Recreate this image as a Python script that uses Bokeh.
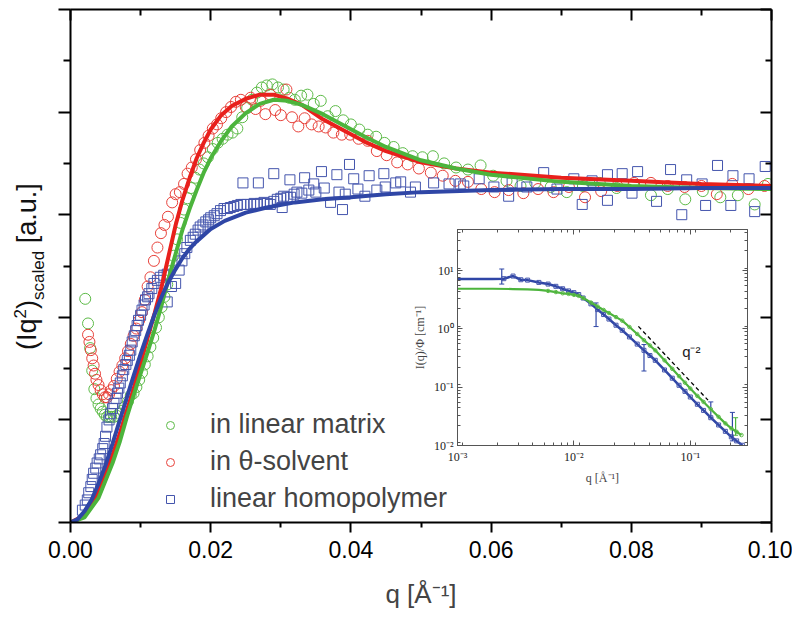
import numpy as np
from bokeh.plotting import figure
from bokeh.models import (Range1d, LinearAxis, LogAxis, FixedTicker, LogTicker, Legend,
                          LegendItem, Label, CustomJSTickFormatter, NumeralTickFormatter,
                          Whisker, TeeHead, ColumnDataSource, Div)
from bokeh.layouts import column
from bokeh.embed import file_html
from bokeh.resources import INLINE

# ---------------- main panel data ----------------
# in linear matrix (green circles)
gq = [0.0021,0.0025,0.0028,0.0031,0.0034,0.0037,0.0040,0.0043,0.0046,0.0049,0.0052,0.0055,0.0058,
      0.0062,0.0066,0.0070,0.0074,0.0078,0.0082,0.0086,0.0090,0.0094,0.0098,0.0102,0.0106,0.0110,0.0114,0.0118,0.0122,0.0126,0.0130,
      0.0134,0.0138,0.0142,0.0147,0.0152,0.0157,0.0162,0.0167,0.0172,0.0178,0.0184,0.0190,0.0196,
      0.0203,0.0210,0.0217,0.0224,0.0231,0.0238,0.0245,0.0252,0.0259,0.0266,0.0273,0.0280,
      0.0288,0.0296,0.0304,0.0312,0.0320,0.0329,0.0338,0.0347,0.0357,0.0367,0.0378,0.0389,0.0400,
      0.0412,0.0424,0.0436,0.0448,0.0461,0.0474,0.0488,0.0502,0.0517,0.0533,0.0550,0.0567,0.0585,0.0603,
      0.0622,0.0642,0.0663,0.0685,0.0708,0.0731,0.0755,0.0779,0.0803,0.0828,0.0852,0.0877,0.0902,0.0927,
      0.0952,0.0976,0.0995]
gy = [2.18,1.94,1.70,1.48,1.30,1.21,1.15,1.11,1.08,1.05,1.03,1.03,1.03,
      1.03,1.04,1.06,1.09,1.13,1.18,1.24,1.26,1.32,1.39,1.46,1.54,1.62,1.71,1.80,1.90,2.00,2.10,
      2.20,2.32,2.45,2.60,2.76,2.92,3.05,3.16,3.26,3.36,3.44,3.50,3.56,
      3.64,3.70,3.74,3.78,3.80,3.84,3.95,4.04,4.12,4.19,4.24,4.26,
      4.27,4.24,4.22,4.14,4.12,4.16,4.17,4.08,4.11,3.96,4.01,3.92,3.88,
      3.83,3.78,3.76,3.70,3.66,3.60,3.57,3.56,3.57,3.50,3.46,3.44,3.48,3.38,
      3.33,3.28,3.31,3.27,3.22,3.28,3.31,3.26,3.29,3.19,3.25,3.15,3.23,3.17,
      3.19,3.10,3.30]

# in theta-solvent (red circles)
rq = [0.0025,0.0027,0.0029,0.0031,0.0033,0.0035,0.0037,0.0040,0.0043,0.0046,0.0049,0.0052,0.0055,0.0058,
      0.0062,0.0066,0.0070,0.0074,0.0078,0.0082,0.0086,0.0090,0.0094,0.0098,0.0102,0.0106,0.0110,0.0114,
      0.0119,0.0124,0.0129,0.0134,0.0139,
      0.0145,0.0150,0.0156,0.0162,0.0167,0.0173,0.0179,0.0185,0.0191,0.0197,0.0203,0.0209,0.0215,
      0.0222,0.0229,0.0236,0.0243,0.0250,0.0257,0.0264,0.0271,0.0278,0.0285,0.0292,
      0.0300,0.0308,0.0316,0.0325,0.0334,0.0344,0.0354,0.0364,0.0375,0.0387,0.0399,0.0411,0.0424,0.0437,
      0.0451,0.0466,0.0481,0.0497,0.0514,0.0531,0.0549,0.0567,0.0586,0.0605,0.0625,0.0646,0.0667,0.0689,
      0.0711,0.0734,0.0757,0.0780,0.0804,0.0828,0.0852,0.0876,0.0900,0.0922,0.0944,0.0967,0.0990]
ry = [1.83,1.76,1.68,1.60,1.53,1.45,1.39,1.34,1.29,1.25,1.22,1.22,1.25,1.29,
      1.33,1.40,1.47,1.53,1.60,1.67,1.74,1.82,1.89,1.97,2.05,2.17,2.30,2.39,
      2.55,2.68,2.82,2.90,2.98,
      3.12,3.20,3.22,3.30,3.40,3.46,3.54,3.63,3.70,3.77,3.84,3.88,3.94,
      4.00,4.05,4.10,4.12,4.05,4.14,4.03,4.11,3.98,4.17,4.02,
      3.97,4.22,3.95,3.86,3.94,3.88,3.86,3.85,3.80,3.78,3.78,3.74,3.72,3.62,
      3.58,3.51,3.49,3.45,3.41,3.38,3.33,3.32,3.25,3.22,3.24,3.21,3.25,3.22,
      3.27,3.17,3.23,3.28,3.31,3.31,3.28,3.27,3.28,3.20,3.30,3.25,3.28]

# linear homopolymer (blue squares)
bq = [0.0017,0.0021,0.0024,0.0026,0.0029,0.0031,0.0033,0.0036,0.0038,0.0041,
      0.0043,0.0046,0.0048,0.0050,0.0052,0.0055,0.0057,0.0060,0.0062,0.0065,
      0.0067,0.0069,0.0071,0.0074,0.0076,0.0079,0.0081,0.0084,0.0086,0.0088,
      0.0091,0.0093,0.0095,0.0097,0.0100,0.0102,0.0105,0.0107,0.0110,0.0112,
      0.0116,0.0119,0.0124,0.0128,0.0133,0.0138,0.0138,0.0144,0.0150,0.0155,
      0.0159,0.0163,0.0166,0.0171,0.0175,0.0178,0.0182,0.0185,0.0189,0.0193,
      0.0197,0.0200,0.0205,0.0209,0.0214,0.0219,0.0224,0.0228,0.0233,0.0238,
      0.0243,0.0246,0.0247,0.0252,0.0257,0.0262,0.0266,0.0268,0.0271,0.0276,
      0.0281,0.0285,0.0290,0.0290,0.0295,0.0300,0.0302,0.0304,0.0309,0.0313,
      0.0314,0.0319,0.0323,0.0330,0.0334,0.0340,0.0347,0.0350,0.0358,0.0362,
      0.0371,0.0380,0.0383,0.0388,0.0392,0.0398,0.0404,0.0410,0.0420,0.0426,
      0.0437,0.0447,0.0449,0.0464,0.0471,0.0485,0.0492,0.0518,0.0540,0.0556,
      0.0561,0.0583,0.0604,0.0625,0.0630,0.0651,0.0675,0.0694,0.0718,0.0730,
      0.0744,0.0766,0.0766,0.0787,0.0801,0.0809,0.0836,0.0856,0.0872,0.0879,
      0.0901,0.0906,0.0923,0.0942,0.0945,0.0968,0.0976,0.0991]
by = [0.12,0.17,0.22,0.29,0.35,0.42,0.48,0.53,0.58,0.62,
      0.66,0.72,0.77,0.84,0.93,1.00,1.06,1.11,1.16,1.21,
      1.26,1.31,1.36,1.43,1.49,1.54,1.58,1.63,1.68,1.76,
      1.82,1.87,1.92,1.97,2.02,2.07,2.12,2.17,2.20,2.23,
      2.28,2.33,2.36,2.39,2.41,2.42,2.15,2.30,2.33,2.46,
      2.55,2.62,2.68,2.75,2.78,2.81,2.85,2.88,2.90,2.93,
      2.95,2.97,2.99,3.01,3.04,3.06,3.06,3.07,3.08,3.09,
      3.10,3.31,3.10,3.10,3.10,3.11,3.10,3.31,3.11,3.12,
      3.11,3.10,3.40,3.13,3.15,3.16,3.07,3.18,3.17,3.34,
      3.17,3.20,3.22,3.21,3.36,3.24,3.30,3.22,3.42,3.26,
      3.12,3.39,3.22,3.05,3.20,3.49,3.35,3.25,3.18,3.38,
      3.24,3.40,3.27,3.31,3.32,3.22,3.27,3.31,3.30,3.30,
      3.28,3.35,3.27,3.18,3.31,3.27,3.41,3.25,3.35,3.10,
      3.33,3.39,3.14,3.40,3.21,3.42,3.13,3.44,3.00,3.34,
      3.30,3.09,3.48,3.09,3.38,3.35,3.03,3.47]

# fit curves
bfq = [0, 0.001, 0.002, 0.003, 0.004, 0.005, 0.006, 0.007, 0.008, 0.009, 0.010, 0.011, 0.012, 0.013,
       0.014, 0.015, 0.016, 0.017, 0.018, 0.020, 0.022, 0.025, 0.028, 0.032, 0.036, 0.040, 0.045,
       0.050, 0.060, 0.070, 0.080, 0.090, 0.100]
bfy = [0, 0.03, 0.11, 0.22, 0.38, 0.56, 0.77, 0.99, 1.21, 1.43, 1.64, 1.84, 2.03, 2.20,
       2.35, 2.47, 2.58, 2.67, 2.74, 2.86, 2.94, 3.02, 3.07, 3.12, 3.15, 3.17, 3.20,
       3.22, 3.24, 3.25, 3.25, 3.26, 3.26]
rfq = [0, 0.002, 0.004, 0.006, 0.007, 0.008, 0.009, 0.010, 0.011, 0.012, 0.013, 0.014, 0.015, 0.016,
       0.017, 0.018, 0.019, 0.020, 0.0215, 0.023, 0.025, 0.027, 0.029, 0.031, 0.033, 0.036, 0.039,
       0.042, 0.045, 0.050, 0.055, 0.060, 0.070, 0.080, 0.090, 0.100]
rfy = [0, 0.07, 0.30, 0.66, 0.86, 1.08, 1.30, 1.55, 1.80, 2.04, 2.30, 2.60, 2.90, 3.15,
       3.36, 3.55, 3.70, 3.83, 3.97, 4.06, 4.13, 4.17, 4.17, 4.13, 4.07, 3.93, 3.82,
       3.71, 3.62, 3.51, 3.45, 3.41, 3.36, 3.33, 3.30, 3.28]
gfq = [0, 0.002, 0.004, 0.006, 0.007, 0.008, 0.009, 0.010, 0.011, 0.012, 0.013, 0.014, 0.015, 0.016,
       0.017, 0.018, 0.019, 0.020, 0.0215, 0.023, 0.025, 0.027, 0.029, 0.031, 0.033, 0.036, 0.039,
       0.042, 0.045, 0.050, 0.055, 0.060, 0.070, 0.080, 0.090, 0.100]
gfy = [0, 0.05, 0.24, 0.58, 0.78, 1.02, 1.24, 1.45, 1.66, 1.88, 2.12, 2.38, 2.62, 2.86,
       3.06, 3.24, 3.41, 3.55, 3.72, 3.86, 3.99, 4.08, 4.12, 4.11, 4.07, 3.98, 3.87,
       3.76, 3.66, 3.53, 3.45, 3.39, 3.32, 3.28, 3.26, 3.25]

x_major = [0.0, 0.02, 0.04, 0.06, 0.08, 0.10]
x_minor = [0.01, 0.03, 0.05, 0.07, 0.09]
y_major = [0, 1, 2, 3, 4, 5]
y_minor = [0.5, 1.5, 2.5, 3.5, 4.5]
legend_labels = ["in linear matrix", "in θ-solvent", "linear homopolymer"]

# ---------------- inset data ----------------
iq_b = [0.001,0.002,0.0025,0.003,0.0035,0.004,0.005,0.006,0.007,0.008,0.009,0.010,0.011,0.012,
        0.014,0.016,0.018,0.020,0.023,0.026,0.030,0.035,0.040,0.045,0.050,0.060,0.070,0.080,
        0.090,0.100,0.115,0.130,0.150,0.175,0.200,0.225,0.250,0.280]
iI_b = [7.2,7.2,7.3,8.1,7.0,6.9,6.3,5.9,5.4,4.9,4.5,4.2,3.9,3.4,
        2.7,2.15,1.77,1.48,1.16,0.95,0.73,0.55,0.43,0.35,0.29,0.198,0.143,0.108,
        0.085,0.068,0.051,0.040,0.030,0.0225,0.0175,0.0141,0.012,0.0101]
iq_g = [0.001,0.002,0.003,0.004,0.005,0.006,0.007,0.008,0.009,0.010,0.011,0.012,0.014,0.016,
        0.018,0.020,0.023,0.026,0.030,0.035,0.040,0.045,0.050,0.060,0.070,0.080,0.090,0.100,
        0.115,0.130,0.150,0.175,0.200,0.225,0.250,0.275]
iI_g = [4.9,4.9,4.85,4.8,4.7,4.5,4.3,4.1,4.0,3.85,3.7,3.4,2.84,2.43,
        2.12,1.88,1.60,1.39,1.08,0.82,0.64,0.52,0.43,0.29,0.207,0.155,0.12,0.095,
        0.071,0.056,0.042,0.031,0.024,0.0197,0.0172,0.0151]
err_q_b = [0.0024, 0.0155, 0.040, 0.150, 0.230]
err_lo_b = [5.9, 1.1, 0.19, 0.030, 0.012]
err_hi_b = [10.7, 2.8, 0.54, 0.056, 0.037]
err_q_g = [0.245]
err_lo_g = [0.015]
err_hi_g = [0.030]
slope_q = [0.0358, 0.142]
slope_I = [1.11, 0.060]

GREEN_M, GREEN_L = "#5dbb48", "#4cb43c"
RED_M, RED_L = "#e8413a", "#e8201c"
BLUE_M, BLUE_L = "#4455ad", "#2f46a6"
FONT = "Liberation Sans"
SERIF = "Liberation Serif"
BLANK = CustomJSTickFormatter(code="return '';")

# ---------------- main figure ----------------
W, H = 784, 603
p = figure(width=W, height=H, output_backend="svg", toolbar_location=None,
           x_range=Range1d(0, 0.1), y_range=Range1d(0, 5),
           min_border_left=62, min_border_right=21, min_border_top=1, min_border_bottom=88)
p.margin = (8, 0, 0, 8)
p.xgrid.visible = False
p.ygrid.visible = False
p.outline_line_color = None
p.background_fill_color = "white"
p.border_fill_color = "white"

xa = p.xaxis[0]
xa.ticker = FixedTicker(ticks=x_major, minor_ticks=x_minor)
xa.formatter = NumeralTickFormatter(format="0.00")
xa.major_tick_out, xa.major_tick_in = 10, 0
xa.minor_tick_out, xa.minor_tick_in = 5, 0
xa.axis_line_width = 2
xa.major_tick_line_width = 2
xa.minor_tick_line_width = 2
xa.major_label_text_font = FONT
xa.major_label_text_font_size = "23px"
xa.major_label_text_color = "black"
xa.major_label_standoff = 8
xa.axis_label = "q [Å⁻¹]"
xa.axis_label_text_font = FONT
xa.axis_label_text_font_size = "26px"
xa.axis_label_text_font_style = "normal"
xa.axis_label_standoff = 18

ya = p.yaxis[0]
ya.ticker = FixedTicker(ticks=y_major, minor_ticks=y_minor)
ya.formatter = BLANK
ya.major_tick_out, ya.major_tick_in = 12, 0
ya.minor_tick_out, ya.minor_tick_in = 7, 0
ya.axis_line_width = 2
ya.major_tick_line_width = 2
ya.minor_tick_line_width = 2
ya.major_label_standoff = 0

top = LinearAxis(ticker=FixedTicker(ticks=x_major, minor_ticks=x_minor), formatter=BLANK,
                 major_tick_in=11, major_tick_out=0, minor_tick_in=6, minor_tick_out=0,
                 axis_line_width=2, major_tick_line_width=2, minor_tick_line_width=2,
                 major_label_standoff=0)
p.add_layout(top, "above")
right = LinearAxis(ticker=FixedTicker(ticks=y_major, minor_ticks=y_minor), formatter=BLANK,
                   major_tick_in=11, major_tick_out=0, minor_tick_in=6, minor_tick_out=0,
                   axis_line_width=2, major_tick_line_width=2, minor_tick_line_width=2,
                   major_label_standoff=0)
p.add_layout(right, "right")

rg = p.scatter(gq, gy, marker="circle", size=11, fill_color=None, line_color=GREEN_M, line_width=1)
rr = p.scatter(rq, ry, marker="circle", size=11, fill_color=None, line_color=RED_M, line_width=1)
rb = p.scatter(bq, by, marker="square", size=10, fill_color=None, line_color=BLUE_M, line_width=1)
p.line(rfq, rfy, line_color=RED_L, line_width=4)
p.line(gfq, gfy, line_color=GREEN_L, line_width=4)
p.line(bfq, bfy, line_color=BLUE_L, line_width=4)

legend = Legend(items=[LegendItem(label=legend_labels[0], renderers=[rg]),
                       LegendItem(label=legend_labels[1], renderers=[rr]),
                       LegendItem(label=legend_labels[2], renderers=[rb])],
                location=(90, 8), label_text_font=FONT, label_text_font_size="27px",
                glyph_width=20, glyph_height=30, label_height=30, spacing=6,
                padding=0, margin=0, label_standoff=30,
                border_line_color=None, background_fill_alpha=0)
p.add_layout(legend)

# ---------------- inset ----------------
IW, IH = 373, 266
pi = figure(width=IW, height=IH, output_backend="svg", toolbar_location=None,
            x_axis_type="log", y_axis_type="log",
            x_range=Range1d(0.001, 0.31), y_range=Range1d(0.01, 51),
            min_border_left=50, min_border_right=10, min_border_top=5, min_border_bottom=45)
pi.border_fill_alpha = 0
pi.background_fill_color = "white"
pi.outline_line_color = "#555555"
pi.xgrid.visible = False
pi.ygrid.visible = False

fmt_code = """
const e = Math.round(Math.log10(tick));
const m = {'-':'\u207b','0':'\u2070','1':'\u00b9','2':'\u00b2','3':'\u00b3'};
return '10' + String(e).split('').map(c => m[c]).join('');
"""
for ax in [pi.xaxis[0], pi.yaxis[0]]:
    ax.ticker = LogTicker(num_minor_ticks=9)
    ax.formatter = CustomJSTickFormatter(code=fmt_code)
    ax.major_tick_in, ax.major_tick_out = 5, 0
    ax.minor_tick_in, ax.minor_tick_out = 3, 0
    ax.axis_line_color = "#555555"
    ax.major_tick_line_color = "#555555"
    ax.minor_tick_line_color = "#555555"
    ax.major_label_text_font = SERIF
    ax.major_label_text_font_size = "12px"
    ax.major_label_text_color = "#222222"
    ax.major_label_standoff = 4
    ax.axis_label_text_font = SERIF
    ax.axis_label_text_font_size = "12px"
    ax.axis_label_text_font_style = "normal"
    ax.axis_label_standoff = 4
pi.xaxis[0].axis_label = "q [Å⁻¹]"
pi.yaxis[0].axis_label = "I(q)/Φ [cm⁻¹]"
for loc in ["above", "right"]:
    ax = LogAxis(ticker=LogTicker(num_minor_ticks=9), formatter=BLANK,
                 major_tick_in=5, major_tick_out=0,
                 minor_tick_in=3, minor_tick_out=0, axis_line_color="#555555",
                 major_tick_line_color="#555555", minor_tick_line_color="#555555",
                 major_label_standoff=0)
    pi.add_layout(ax, loc)

pi.line(slope_q, slope_I, line_color="black", line_width=1.3, line_dash="4 3")
pi.line(iq_b, iI_b, line_color=BLUE_L, line_width=2.5)
pi.scatter(iq_b[2:], iI_b[2:], marker="square", size=4, fill_color=None, line_color=BLUE_M)
pi.add_layout(Whisker(source=ColumnDataSource(dict(q=err_q_b, lo=err_lo_b, hi=err_hi_b)),
                      base="q", lower="lo", upper="hi", line_color=BLUE_L, line_width=1.2,
                      lower_head=TeeHead(size=5, line_color=BLUE_L),
                      upper_head=TeeHead(size=5, line_color=BLUE_L)))
pi.line(iq_g, iI_g, line_color=GREEN_L, line_width=2.2)
pi.scatter(iq_g[5:], iI_g[5:], marker="circle", size=3.5, fill_color=None, line_color=GREEN_M)
pi.add_layout(Whisker(source=ColumnDataSource(dict(q=err_q_g, lo=err_lo_g, hi=err_hi_g)),
                      base="q", lower="lo", upper="hi", line_color=GREEN_L, line_width=1.2,
                      lower_head=TeeHead(size=5, line_color=GREEN_L),
                      upper_head=TeeHead(size=5, line_color=GREEN_L)))
pi.add_layout(Label(x=0.102, y=0.41, text="q⁻²", text_font=FONT, text_font_size="15px",
                    text_align="center", text_baseline="middle", text_color="#222222"))

# place the inset over the main panel
pi.margin = (224 - (8 + H), 0, 0, 395)

# rotated y-axis title of the main panel, with super/subscript
ylab_html = ('<span style="font-family:\'Liberation Sans\'; font-size:27px; font-weight:400; '
             'color:#111111; white-space:nowrap; line-height:32px;">(Iq'
             '<span style="font-size:17px; font-weight:400; vertical-align:10px;">2</span>)'
             '<span style="font-size:17px; font-weight:400; vertical-align:-8px;">scaled</span>'
             ' [a.u.]</span>')
ylab = Div(text=ylab_html, width=260, height=34,
           styles={"transform": "rotate(-90deg)", "transform-origin": "0 0",
                   "font-weight": "400"})
nat_top = 8 + H + (224 - (8 + H)) + IH
ylab.margin = (350 - nat_top, 0, 0, 5)

layout = column(p, pi, ylab)
open("out.html", "w").write(file_html(layout, INLINE))
